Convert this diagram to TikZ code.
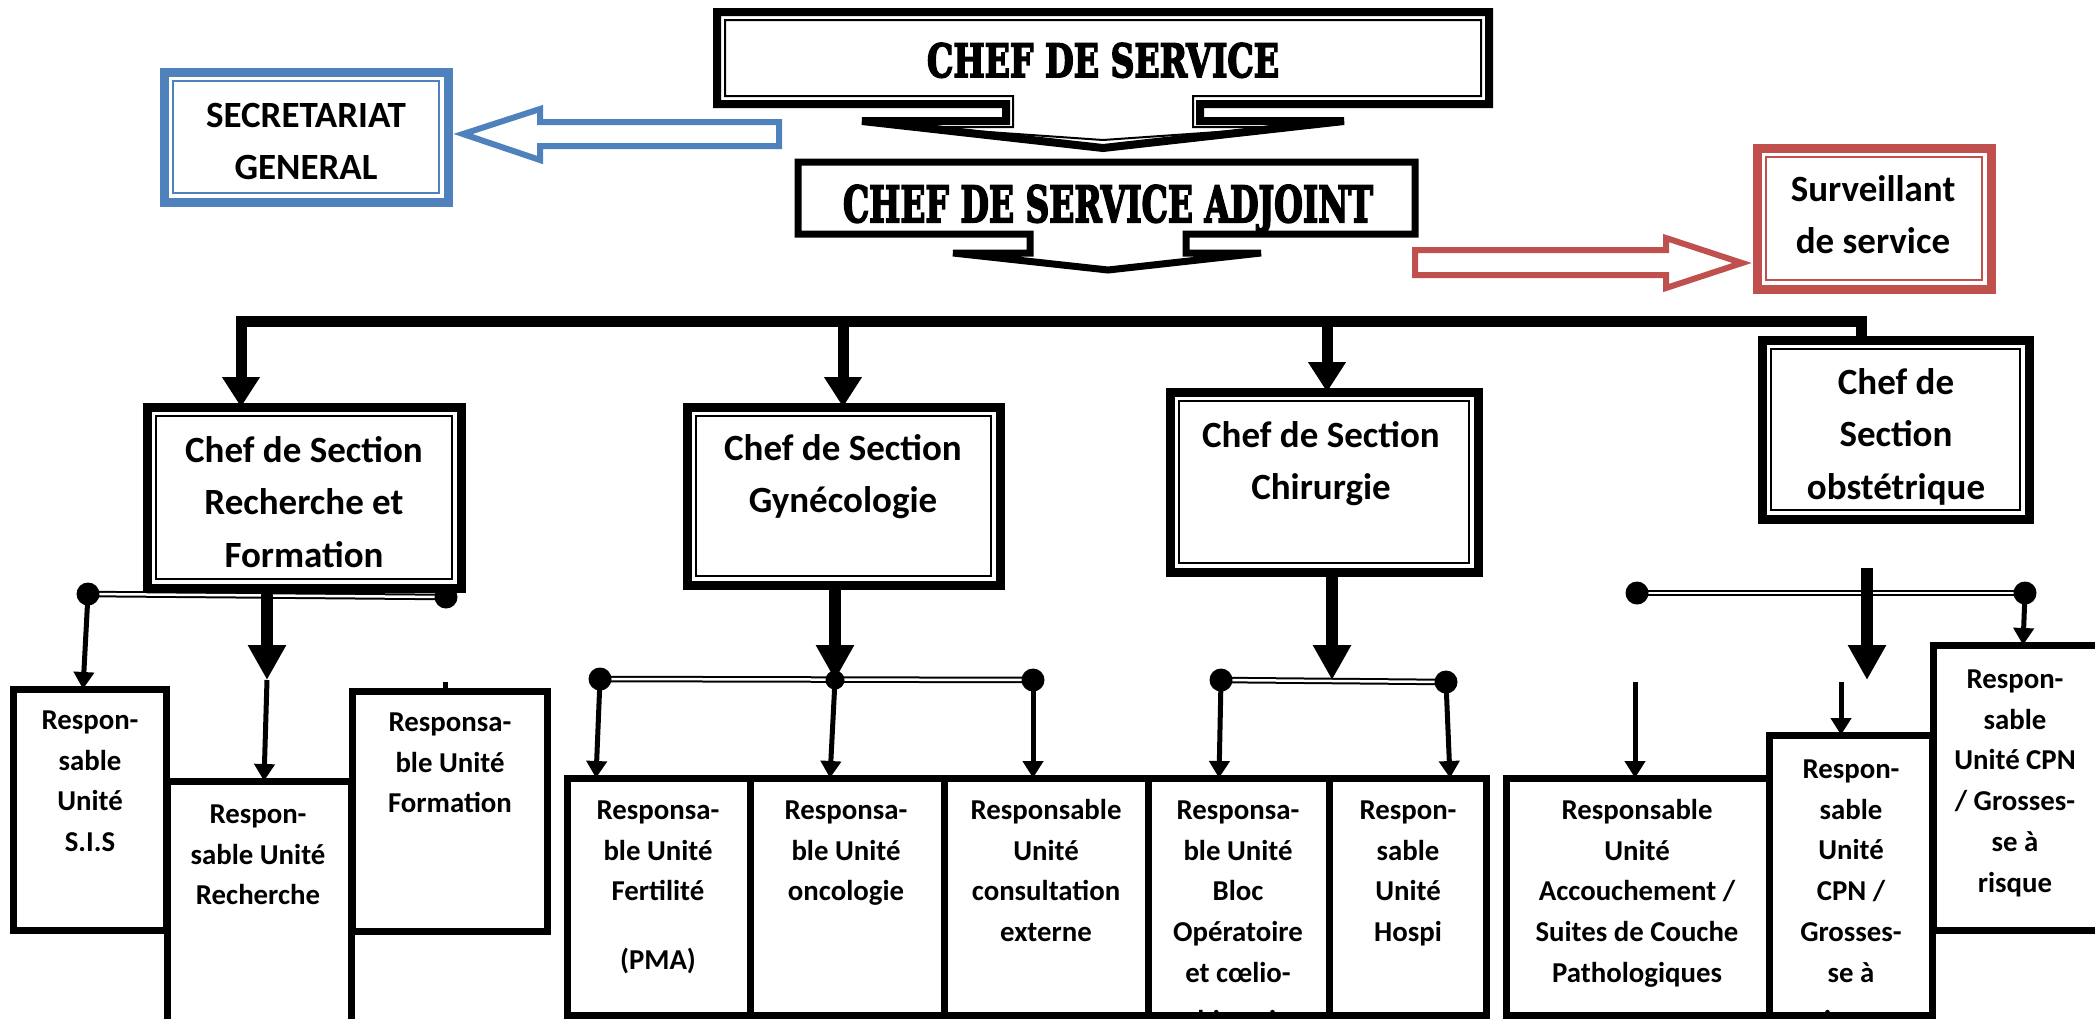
\documentclass[tikz,border=0pt]{standalone}
\usepackage{fontspec}
\setmainfont{Carlito}
\newfontfamily\headfont{DejaVu Serif}[FakeBold=4]
\usepackage{graphicx}
\usetikzlibrary{arrows.meta,fit,calc}
\definecolor{bleu}{RGB}{79,129,189}
\definecolor{rouge}{RGB}{192,80,77}
\tikzset{
 unitbox/.style={draw, line width=7pt, inner sep=0pt, outer sep=0pt},
 chefbox/.style={draw, line width=9pt, inner sep=0pt, outer sep=0pt},
 unittext/.style={font={\fontsize{28.8}{40.8}\selectfont\bfseries}, align=center, inner sep=0pt, anchor=north},
 cheftext/.style={font={\fontsize{37}{52.5}\selectfont\bfseries}, align=center, inner sep=0pt, anchor=north},
 innerline/.style={line width=2pt},
 bigarrow/.style={line width=11pt, -{Triangle[width=36pt,length=30pt]}},
 stemarrow/.style={line width=12pt, -{Triangle[width=36pt,length=35pt]}},
 thinarrow/.style={line width=5pt, -{Triangle[width=20pt,length=17pt]}},
 busline/.style={double=white, double distance=2.5pt, line width=2pt},
 busdot/.style={circle, fill=black, inner sep=0pt, minimum size=23pt},
 smalldot/.style={circle, fill=black, inner sep=0pt, minimum size=19pt},
 blockarrow/.style={line width=6pt, line join=miter, fill=white},
 headtext/.style={anchor=base, inner sep=0pt},
}
\begin{document}
\begin{tikzpicture}[x=1pt,y=-1pt]
\useasboundingbox (0,0) rectangle (2095,1018);
\fill[white] (0,0) rectangle (2095,1018);

% ---------- top callouts ----------
\draw[line width=8pt, line join=miter, fill=white] (717,12) -- (1489,12) -- (1489,104) -- (1200,104) -- (1200,121) -- (1344,121) -- (1103,148) -- (862,121) -- (1006,121) -- (1006,104) -- (717,104) -- cycle;
\draw[innerline, line join=miter] (725,20) -- (1481,20) -- (1481,96) -- (1193,96) -- (1193,127) -- (1290,127) -- (1103,140) -- (916,127) -- (1013,127) -- (1013,96) -- (725,96) -- cycle;
\node[headtext] (cds) at (1103,77) {\resizebox{352pt}{34pt}{\headfont\bfseries CHEF DE SERVICE}};

\draw[line width=7pt, line join=miter, fill=white] (798,162) -- (1415,162) -- (1415,234) -- (1186,234) -- (1186,253) -- (1261,253) -- (1108,270) -- (953,253) -- (1030,253) -- (1030,234) -- (798,234) -- cycle;
\node[headtext] (cdsa) at (1108,222) {\resizebox{530pt}{37pt}{\headfont\bfseries CHEF DE SERVICE ADJOINT}};

% ---------- secretariat / surveillant ----------
\node[chefbox, draw=bleu, fit={(164,72)(448,202)}] (sec) {};
\draw[innerline, bleu] ([shift={(9,9)}]sec.north west) rectangle ([shift={(-9,-9)}]sec.south east);
\node[cheftext] (sectxt) at (306,{127-36.75}) {\strut SECRETARIAT\\GENERAL};
\coordinate (bt) at (463,134);
\draw[blockarrow, draw=bleu] (bt) -- (540,109) -- (540,122) -- (779,122) -- (779,146) -- (540,146) -- (540,160) -- cycle;

\node[chefbox, draw=rouge, fit={(1757,148)(1991,289)}] (surv) {};
\draw[innerline, rouge] ([shift={(9,9)}]surv.north west) rectangle ([shift={(-9,-9)}]surv.south east);
\node[cheftext] (survtxt) at (1873,{201-36.75}) {\strut Surveillant\\de service};
\coordinate (rt) at (1742,263);
\draw[blockarrow, draw=rouge] (1415,250) -- (1666,250) -- (1666,238) -- (rt) -- (1666,288) -- (1666,275) -- (1415,275) -- cycle;

% ---------- chef de section boxes ----------
\node[chefbox, fit={(147,407)(461,588)}] (rf) {};
\draw[innerline] ([shift={(9,9)}]rf.north west) rectangle ([shift={(-9,-9)}]rf.south east);
\node[cheftext] (rftxt) at (304,{462-36.75}) {\strut Chef de Section\\Recherche et\\Formation};

\node[chefbox, fit={(687,407)(1000,585)}] (gyn) {};
\draw[innerline] ([shift={(9,9)}]gyn.north west) rectangle ([shift={(-9,-9)}]gyn.south east);
\node[cheftext] (gyntxt) at (843,{460-36.75}) {\strut Chef de Section\\Gynécologie};

\node[chefbox, fit={(1170,392)(1478,572)}] (chir) {};
\draw[innerline] ([shift={(9,9)}]chir.north west) rectangle ([shift={(-9,-9)}]chir.south east);
\node[cheftext] (chirtxt) at (1321,{447-36.75}) {\strut Chef de Section\\Chirurgie};

\node[chefbox, fit={(1762,340)(2029,519)}] (obs) {};
\draw[innerline] ([shift={(9,9)}]obs.north west) rectangle ([shift={(-9,-9)}]obs.south east);
\node[cheftext] (obstxt) at (1896,{394-36.75}) {\strut Chef de\\Section\\obstétrique};

% ---------- unit texts (drawn before boxes) ----------
\node[unittext] (sistxt) at (90,{729-28.56}) {\strut Respon-\\sable\\Unité\\S.I.S};
\node[unittext] (rechtxt) at (258,{823-28.56}) {\strut Respon-\\sable Unité\\Recherche};
\node[unittext] (formtxt) at (450,{731-28.56}) {\strut Responsa-\\ble Unité\\Formation};
\node[unittext] (ferttxt) at (658,{819-28.56}) {\strut Responsa-\\ble Unité\\Fertilité\\[28pt](PMA)};
\node[unittext] (oncotxt) at (846,{819-28.56}) {\strut Responsa-\\ble Unité\\oncologie};
\node[unittext] (constxt) at (1046,{819-28.56}) {\strut Responsable\\Unité\\consultation\\externe};
\node[unittext] (bloctxt) at (1238,{819-28.56}) {\strut Responsa-\\ble Unité\\Bloc\\Opératoire\\et cœlio-\\[7pt]chirurgie};
\node[unittext] (hosptxt) at (1408,{819-28.56}) {\strut Respon-\\sable\\Unité\\Hospi};
\node[unittext] (acctxt) at (1637,{819-28.56}) {\strut Responsable\\Unité\\Accouchement /\\Suites de Couche\\Pathologiques};
\node[unittext] (cpntxt) at (1851,{778-28.56}) {\strut Respon-\\sable\\Unité\\CPN /\\Grosses-\\se à\\[7pt]risque};
\node[unittext] (risqtxt) at (2015,{688-28.56}) {\strut Respon-\\sable\\Unité CPN\\/ Grosses-\\se à\\risque};

% ---------- unit boxes ----------
\node[unitbox, fit={(167,781)(351,1040)}] (rech) {};
\node[unitbox, fit={(13,689)(166,930)}] (sis) {};
\node[unitbox, fit={(352,691)(547,931)}] (form) {};
\node[unitbox, fit={(567,778)(750,1015)}] (fert) {};
\node[unitbox, fit={(750,778)(944,1015)}] (onco) {};
\node[unitbox, fit={(944,778)(1148,1015)}] (cons) {};
\node[unitbox, fit={(1148,778)(1329,1015)}] (bloc) {};
\node[unitbox, fit={(1329,778)(1486,1015)}] (hosp) {};
\node[unitbox, fit={(1506,778)(1769,1015)}] (acc) {};
\node[unitbox, fit={(1769,735)(1932,1015)}] (cpn) {};
\node[unitbox, fit={(1933,645)(2110,930)}] (risq) {};

% ---------- top bus ----------
\coordinate (b1) at (241,321);
\coordinate (b2) at (843,321);
\coordinate (b3) at (1327,321);
\coordinate (b4) at (1861,321);
\draw[bigarrow, line join=miter] (b4 |- obs.north) -- (b4) -- (b1) -- (b1 |- rf.north);
\draw[bigarrow] (b2) -- (b2 |- gyn.north);
\draw[bigarrow] (b3) -- (b3 |- chir.north);

% ---------- sub buses ----------
\coordinate (d11) at (88,594);
\coordinate (d12) at (446,597);
\coordinate (d21) at (600,679);
\coordinate (d22) at (835,680);
\coordinate (d23) at (1033,680);
\coordinate (d31) at (1221,680);
\coordinate (d32) at (1446,682);
\coordinate (d41) at (1637,593);
\coordinate (d42) at (2025,593);
\draw[busline] (d11) -- (d12);
\draw[busline] (d21) -- (d23);
\draw[busline] (d31) -- (d32);
\draw[busline] (d41) -- (d42);

% stems from section heads
\coordinate (s1) at (267,680);
\coordinate (s2) at (835,680);
\coordinate (s3) at (1332,680);
\coordinate (s4a) at (1867,568);
\coordinate (s4) at (1867,680);
\draw[stemarrow] (rf.south -| s1) -- (s1);
\draw[stemarrow] (gyn.south -| s2) -- (s2);
\draw[stemarrow] (chir.south -| s3) -- (s3);
\draw[stemarrow] (s4a) -- (s4);

% dots
\node[busdot] (n11) at (d11) {};
\node[busdot] (n12) at (d12) {};
\node[busdot] (n21) at (d21) {};
\node[smalldot] (n22) at (d22) {};
\node[busdot] (n23) at (d23) {};
\node[busdot] (n31) at (d31) {};
\node[busdot] (n32) at (d32) {};
\node[busdot] (n41) at (d41) {};
\node[busdot] (n42) at (d42) {};

% thin arrows to units
\coordinate (a1) at (83,0);
\coordinate (a2) at (264,0);
\coordinate (a3) at (445,682);
\coordinate (a4) at (596,0);
\coordinate (a5) at (830,0);
\coordinate (a6) at (1033,0);
\coordinate (a7) at (1219,0);
\coordinate (a8) at (1450,0);
\coordinate (a9) at (2023,0);
\coordinate (e1) at (1635,682);
\coordinate (e2) at (1841,682);
\draw[thinarrow] (n11.center) -- (a1 |- sis.north);
\draw[thinarrow] (s1) -- (a2 |- rech.north);
\draw[line width=5pt] (a3) -- (a3 |- form.north);
\draw[thinarrow] (n21.center) -- (a4 |- fert.north);
\draw[thinarrow] (n22.center) -- (a5 |- onco.north);
\draw[thinarrow] (n23.center) -- (a6 |- cons.north);
\draw[thinarrow] (n31.center) -- (a7 |- bloc.north);
\draw[thinarrow] (n32.center) -- (a8 |- hosp.north);
\draw[thinarrow] (n42.center) -- (a9 |- risq.north);
\draw[thinarrow] (e1) -- (e1 |- acc.north);
\draw[thinarrow] (e2) -- (e2 |- cpn.north);
\end{tikzpicture}
\end{document}
